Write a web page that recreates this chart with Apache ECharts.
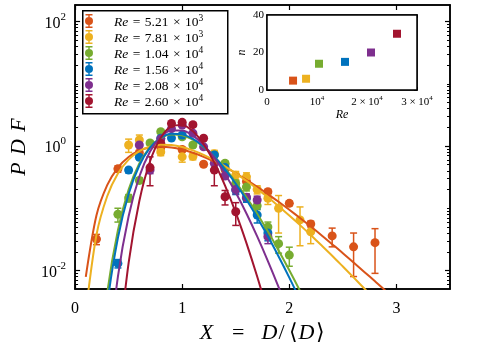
<!DOCTYPE html>
<html>
<head>
<meta charset="utf-8">
<script src="https://cdn.jsdelivr.net/npm/echarts@6/dist/echarts.min.js"></script>
<style>
  html, body { margin: 0; padding: 0; background: #fff; }
  #main { width: 498px; height: 349px; }
</style>
</head>
<body>
<div id="main"></div>
<script>
// colours of the six Reynolds numbers
var colors = ['#D95319', '#EDB120', '#77AC30', '#0072BD', '#7E2F8E', '#A2142F'];
var reMantissa = ['5.21', '7.81', '1.04', '1.56', '2.08', '2.60'];
var reExponent = [3, 3, 4, 4, 4, 4];

// measured PDF points (X, PDF, error)
var re1X = [0.2, 0.4, 0.6, 0.8, 1.0, 1.2, 1.4, 1.6, 1.8, 2.0, 2.2, 2.4, 2.6, 2.8];
var re1Y = [0.032, 0.43, 0.78, 0.95, 0.88, 0.51, 0.42, 0.27, 0.185, 0.12, 0.056, 0.036, 0.024, 0.028];
var re1E = [0.006, 0.05, 0.06, 0.06, 0.06, 0.04, 0.03, 0.02, 0.015, 0.01, 0.006, 0.012, 0.016, 0.019];

var re2X = [0.5, 0.6, 0.8, 1.0, 1.1, 1.3, 1.4, 1.5, 1.6, 1.7, 1.8, 1.9, 2.1, 2.2];
var re2Y = [1.04, 1.25, 0.8, 0.67, 0.68, 0.75, 0.5, 0.34, 0.32, 0.2, 0.145, 0.1, 0.065, 0.042];
var re2E = [0.25, 0.25, 0.1, 0.12, 0.08, 0.1, 0.06, 0.05, 0.05, 0.03, 0.03, 0.06, 0.04, 0.015];

var re3X = [0.4, 0.5, 0.6, 0.7, 0.8, 1.0, 1.1, 1.3, 1.4, 1.5, 1.6, 1.7, 1.8, 1.9, 2.0];
var re3Y = [0.08, 0.146, 0.28, 1.12, 1.7, 1.41, 1.04, 0.72, 0.53, 0.25, 0.22, 0.11, 0.05, 0.027, 0.0177];
var re3E = [0.02, 0.02, 0.03, 0.08, 0.1, 0.1, 0.08, 0.05, 0.04, 0.03, 0.03, 0.015, 0.01, 0.008, 0.006];

var re4X = [0.4, 0.5, 0.6, 0.8, 0.9, 1.0, 1.3, 1.4, 1.5, 1.6, 1.7, 1.8];
var re4Y = [0.013, 0.41, 0.66, 1.33, 1.34, 1.5, 0.72, 0.45, 0.196, 0.145, 0.078, 0.04];
var re4E = [0.002, 0.04, 0.05, 0.08, 0.08, 0.1, 0.06, 0.04, 0.03, 0.02, 0.02, 0.01];

var re5X = [0.6, 0.7, 0.8, 0.9, 1.0, 1.1, 1.2, 1.3, 1.4, 1.5, 1.6, 1.7, 1.8];
var re5Y = [1.04, 0.41, 1.3, 1.9, 2.17, 1.6, 0.97, 0.53, 0.33, 0.2, 0.15, 0.136, 0.035];
var re5E = [0.08, 0.05, 0.1, 0.1, 0.12, 0.1, 0.07, 0.05, 0.03, 0.03, 0.02, 0.02, 0.008];

var re6X = [0.7, 0.8, 0.9, 1.0, 1.1, 1.2, 1.3, 1.4, 1.5];
var re6Y = [0.45, 1.1, 2.3, 2.4, 2.2, 1.33, 0.41, 0.153, 0.088];
var re6E = [0.22, 0.1, 0.15, 0.15, 0.15, 0.1, 0.18, 0.04, 0.035];

var fitX = [0.1, 0.2, 0.3, 0.4, 0.5, 0.6, 0.7, 0.8, 0.9, 1.0,
            1.1, 1.2, 1.3, 1.4, 1.5, 1.6, 1.7, 1.8, 1.9, 2.0,
            2.1, 2.2, 2.3, 2.4, 2.5, 2.6, 2.7, 2.8, 2.9, 3.0];
var fit1 = [0.0079, 0.077, 0.235, 0.451, 0.668, 0.84, 0.944, 0.977, 0.949, 0.877,
            0.779, 0.669, 0.559, 0.456, 0.365, 0.286, 0.221, 0.169, 0.127, 0.0946,
            0.0698, 0.051, 0.0369, 0.0265, 0.019, 0.0134, 0.0095, 0.0067, 0.0047, 0.0032];
var fit2 = [0.0021, 0.0375, 0.156, 0.361, 0.605, 0.826, 0.98, 1.048, 1.037, 0.964,
            0.852, 0.722, 0.591, 0.47, 0.364, 0.276, 0.205, 0.15, 0.108, 0.0764,
            0.0536, 0.0371, 0.0254, 0.0173, 0.0116, 0.00775, 0.00514, 0.00338, 0.0022, 0.0014];
var fit3 = [null, 0.0001, 0.0043, 0.0443, 0.199, 0.524, 0.959, 1.341, 1.529, 1.484,
            1.263, 0.965, 0.674, 0.436, 0.263, 0.15, 0.0815, 0.0422, 0.021, 0.0101,
            0.0047, 0.0021, null, null, null, null, null, null, null, null];
var fit4 = [null, 0.00004, 0.0027, 0.0334, 0.17, 0.486, 0.938, 1.358, 1.576, 1.537,
            1.302, 0.982, 0.672, 0.423, 0.248, 0.137, 0.0712, 0.0354, 0.0168, 0.0077,
            0.0034, 0.0015, null, null, null, null, null, null, null, null];
var fit5 = [null, null, 0.00025, 0.008, 0.0746, 0.323, 0.817, 1.398, 1.774, 1.777,
            1.47, 1.039, 0.644, 0.356, 0.179, 0.0825, 0.0353, 0.0142, 0.0054, 0.0019,
            null, null, null, null, null, null, null, null, null, null];
var fit6 = [null, null, null, 0.0004, 0.0133, 0.131, 0.569, 1.36, 2.062, 2.179,
            1.721, 1.068, 0.542, 0.231, 0.0852, 0.0276, 0.008, 0.0021, null, null,
            null, null, null, null, null, null, null, null, null, null];

// inset: exponent n against Re
var insetRe = [5210, 7810, 10400, 15600, 20800, 26000];
var insetN = [5, 6, 14, 15, 20, 30];

var xTicks = [0, 1, 2, 3];
var yTicks = [-2, 0, 2];          // decades labelled on the PDF axis
var insetXTicks = [0, 10000, 20000, 30000];

var ptsX = [re1X, re2X, re3X, re4X, re5X, re6X];
var ptsY = [re1Y, re2Y, re3Y, re4Y, re5Y, re6Y];
var ptsE = [re1E, re2E, re3E, re4E, re5E, re6E];
var fits = [fit1, fit2, fit3, fit4, fit5, fit6];

var yMin = -2.297, yMax = 2.265;
var lg = function (v) { return Math.log10(v); };

var minorTicks = [];
for (var d = -3; d <= 2; d++) {
  for (var k = 1; k <= 9; k++) {
    var v = lg(k) + d;
    if (k === 1 && (d === -2 || d === 0 || d === 2)) continue;
    if (v > yMin && v < yMax) minorTicks.push(v);
  }
}

var serif = 'Liberation Serif';
var sp = '\u2004';
var names = reMantissa.map(function (m, i) { return 'Re = ' + m + ' × 10^' + reExponent[i]; });

function errorBar(params, api) {
  var x = api.value(0);
  var lo = api.coord([x, api.value(1)]);
  var hi = api.coord([x, api.value(2)]);
  var w = 3.5;
  var st = { stroke: api.visual('color'), lineWidth: 1.5 };
  return {
    type: 'group',
    children: [
      { type: 'line', shape: { x1: lo[0], y1: lo[1], x2: hi[0], y2: hi[1] }, style: st },
      { type: 'line', shape: { x1: hi[0] - w, y1: hi[1], x2: hi[0] + w, y2: hi[1] }, style: st },
      { type: 'line', shape: { x1: lo[0] - w, y1: lo[1], x2: lo[0] + w, y2: lo[1] }, style: st }
    ]
  };
}

var series = [];
for (var i = 0; i < 6; i++) {
  var bars = ptsX[i].map(function (x, j) {
    var y = ptsY[i][j], e = ptsE[i][j];
    return [x, y - e > 0 ? lg(y - e) : -5, lg(y + e)];
  });
  series.push({
    type: 'custom', name: 'err' + i, renderItem: errorBar, clip: true,
    xAxisIndex: 0, yAxisIndex: 0, itemStyle: { color: colors[i] },
    data: bars, z: 2, silent: true
  });
  series.push({
    type: 'scatter', name: names[i], symbol: 'circle', symbolSize: 9,
    xAxisIndex: 0, yAxisIndex: 0, itemStyle: { color: colors[i], opacity: 1 },
    data: ptsX[i].map(function (x, j) { return [x, lg(ptsY[i][j])]; }), z: 2
  });
}
for (var i = 0; i < 6; i++) {
  var line = [];
  fitX.forEach(function (x, j) { if (fits[i][j] != null) line.push([x, lg(fits[i][j])]); });
  series.push({
    type: 'line', name: 'fit' + i, data: line, smooth: 0.3, showSymbol: false,
    xAxisIndex: 0, yAxisIndex: 0, clip: true,
    lineStyle: { color: colors[i], width: 2 }, z: 3, silent: true
  });
}
series.push({
  type: 'scatter', name: 'inset', symbol: 'rect', symbolSize: 8,
  xAxisIndex: 2, yAxisIndex: 4,
  itemStyle: { color: function (p) { return colors[p.dataIndex]; }, opacity: 1 },
  data: insetRe.map(function (r, j) { return [r, insetN[j]]; }), z: 5
});

var legendIcon = 'path://M0.5,0H7.5V1.4H4.7V12.6H7.5V14H0.5V12.6H3.3V1.4H0.5Z M8,7A4,4 0 1 1 0,7A4,4 0 1 1 8,7Z';
var blackLine = { onZero: false, lineStyle: { color: '#000', width: 1.5 } };

var myChart = echarts.init(document.getElementById('main'));
var option = {
  animation: false,
  backgroundColor: '#fff',
  grid: [
    { left: 75, top: 5, right: 48, bottom: 60, show: true, borderColor: '#000', borderWidth: 1.5 },
    { left: 267, top: 15, width: 150, height: 75, show: true, backgroundColor: '#fff',
      borderColor: '#000', borderWidth: 1.5, z: 4 }
  ],
  graphic: [{
    type: 'rect', left: 82, top: 10, z: 5,
    shape: { width: 145, height: 103 },
    style: { fill: '#fff', stroke: '#000', lineWidth: 1.5 }
  }],
  legend: {
    data: names, left: 85, top: 13, orient: 'vertical', align: 'left',
    icon: legendIcon, symbolKeepAspect: true,
    itemWidth: 40, itemHeight: 14, itemGap: 0,
    padding: 0, selectedMode: false, z: 6,
    formatter: function (name) {
      var i = names.indexOf(name);
      return '{i|Re}{t|' + sp + '=' + sp + reMantissa[i] + sp + '×' + sp + '10}{s|' + reExponent[i] + '}';
    },
    textStyle: {
      fontFamily: serif, color: '#000',
      rich: {
        i: { fontFamily: serif, fontStyle: 'italic', fontSize: 13.5, lineHeight: 16, verticalAlign: 'bottom' },
        t: { fontFamily: serif, fontSize: 13.5, lineHeight: 16, verticalAlign: 'bottom' },
        s: { fontFamily: serif, fontSize: 9.5, lineHeight: 10, verticalAlign: 'top' }
      }
    }
  },
  xAxis: [
    { type: 'value', gridIndex: 0, min: 0, max: 3.5, position: 'bottom', axisLine: blackLine,
      axisTick: { inside: true, length: 5, customValues: xTicks, lineStyle: { color: '#000', width: 1.2 } },
      axisLabel: { customValues: xTicks, margin: 12, fontFamily: serif, fontSize: 16, color: '#000' },
      splitLine: { show: false },
      name: '{i|X}{e|=}{i|D}{r|/}{a|⟨}{i|D}{b|⟩}', nameLocation: 'middle', nameGap: 32,
      nameTextStyle: { rich: {
        i: { fontFamily: serif, fontStyle: 'italic', fontSize: 22, color: '#000' },
        e: { fontFamily: serif, fontSize: 22, color: '#000', padding: [0, 17, 0, 19] },
        r: { fontFamily: serif, fontSize: 22, color: '#000', padding: [0, 1, 0, 1] },
        a: { fontFamily: serif, fontSize: 22, color: '#000', padding: [0, 1, 0, 3] },
        b: { fontFamily: serif, fontSize: 22, color: '#000', padding: [0, 0, 0, 2] } } } },
    { type: 'value', gridIndex: 0, min: 0, max: 3.5, position: 'top', axisLine: blackLine,
      axisTick: { inside: true, length: 5, customValues: xTicks, lineStyle: { color: '#000', width: 1.2 } },
      axisLabel: { show: false }, splitLine: { show: false } },
    { type: 'value', gridIndex: 1, min: 0, max: 30000, position: 'bottom', axisLine: blackLine,
      axisTick: { inside: true, length: 3, customValues: insetXTicks, lineStyle: { color: '#000' } },
      axisLabel: { customValues: insetXTicks, margin: 5, color: '#000',
        formatter: function (v) {
          if (v === 0) return '{m|0}';
          var c = v / 10000;
          return '{m|' + (c === 1 ? '' : c + ' × ') + '10}{s|4}';
        },
        rich: {
          m: { fontFamily: serif, fontSize: 11, lineHeight: 13, verticalAlign: 'bottom' },
          s: { fontFamily: serif, fontSize: 7, lineHeight: 8, verticalAlign: 'top' } } },
      splitLine: { show: false },
      name: 'Re', nameLocation: 'middle', nameGap: 18,
      nameTextStyle: { fontFamily: serif, fontStyle: 'italic', fontSize: 12, color: '#000' } },
    { type: 'value', gridIndex: 1, min: 0, max: 30000, position: 'top', axisLine: blackLine,
      axisTick: { inside: true, length: 3, customValues: insetXTicks, lineStyle: { color: '#000' } },
      axisLabel: { show: false }, splitLine: { show: false } }
  ],
  yAxis: [
    { type: 'value', gridIndex: 0, min: yMin, max: yMax, position: 'left', axisLine: blackLine,
      axisTick: { show: true, inside: true, length: 5, customValues: yTicks, lineStyle: { color: '#000', width: 1.2 } },
      axisLabel: { customValues: yTicks, margin: 9, color: '#000',
        formatter: function (v) { return '{b|10}{s|' + (v < 0 ? '-' : '') + Math.abs(v) + '}'; },
        rich: {
          b: { fontFamily: serif, fontSize: 16, lineHeight: 20, verticalAlign: 'bottom' },
          s: { fontFamily: serif, fontSize: 11, lineHeight: 12, verticalAlign: 'top' } } },
      splitLine: { show: false },
      name: 'P\u2004D\u2004F', nameLocation: 'middle', nameGap: 45,
      nameTextStyle: { fontFamily: serif, fontStyle: 'italic', fontSize: 22, color: '#000' } },
    { type: 'value', gridIndex: 0, min: yMin, max: yMax, position: 'left',
      axisLine: { show: false, onZero: false },
      axisTick: { show: true, inside: true, length: 3, customValues: minorTicks, lineStyle: { color: '#000' } },
      axisLabel: { show: false }, splitLine: { show: false } },
    { type: 'value', gridIndex: 0, min: yMin, max: yMax, position: 'right', axisLine: blackLine,
      axisTick: { show: true, inside: true, length: 5, customValues: yTicks, lineStyle: { color: '#000', width: 1.2 } },
      axisLabel: { show: false }, splitLine: { show: false } },
    { type: 'value', gridIndex: 0, min: yMin, max: yMax, position: 'right',
      axisLine: { show: false, onZero: false },
      axisTick: { show: true, inside: true, length: 3, customValues: minorTicks, lineStyle: { color: '#000' } },
      axisLabel: { show: false }, splitLine: { show: false } },
    { type: 'value', gridIndex: 1, min: 0, max: 40, interval: 20, position: 'left', axisLine: blackLine,
      axisTick: { show: true, inside: true, length: 3, lineStyle: { color: '#000' } },
      axisLabel: { margin: 3, fontFamily: serif, fontSize: 11, color: '#000' },
      splitLine: { show: false },
      name: 'n', nameLocation: 'middle', nameGap: 19,
      nameTextStyle: { fontFamily: serif, fontStyle: 'italic', fontSize: 12, color: '#000' } },
    { type: 'value', gridIndex: 1, min: 0, max: 40, interval: 20, position: 'right', axisLine: blackLine,
      axisTick: { show: true, inside: true, length: 3, lineStyle: { color: '#000' } },
      axisLabel: { show: false }, splitLine: { show: false } }
  ],
  series: series
};
myChart.setOption(option);
</script>
</body>
</html>
